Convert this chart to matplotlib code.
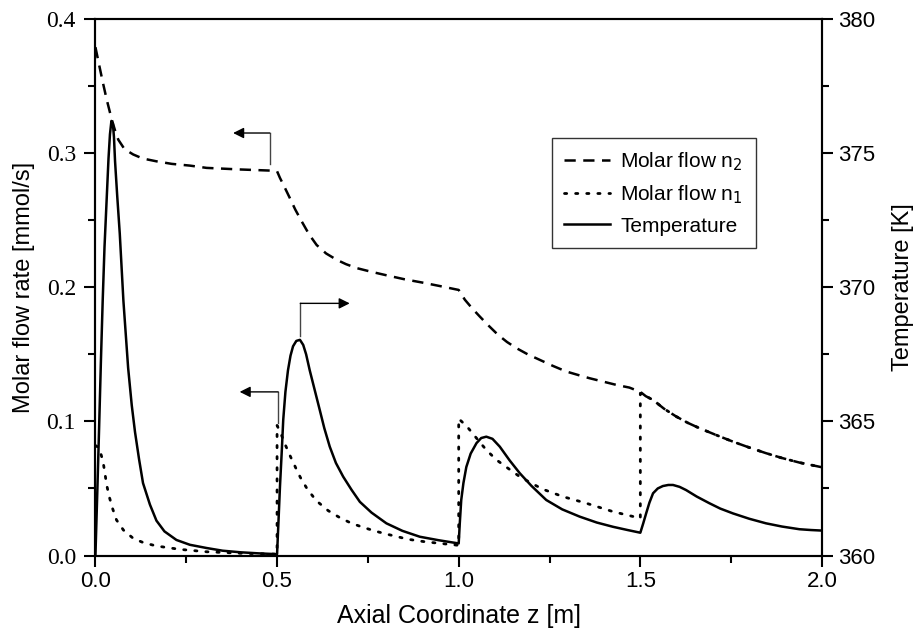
import numpy as np
import matplotlib
matplotlib.use("Agg")
import matplotlib.pyplot as plt
from matplotlib.ticker import MultipleLocator
from matplotlib.lines import Line2D

# molar flow n2 along the reactor (dashed)
z_n2 = [0.0, 0.01, 0.021, 0.031, 0.045, 0.055, 0.063, 0.08, 0.104, 0.13, 0.168, 0.21, 0.26,
        0.306, 0.4, 0.48, 0.5,
        0.508, 0.52, 0.535, 0.55, 0.567, 0.588, 0.609, 0.635, 0.664, 0.69, 0.719, 0.76, 0.8,
        0.85, 0.9, 0.95, 1.0,
        1.017, 1.037, 1.058, 1.083, 1.108, 1.133, 1.159, 1.19, 1.223, 1.26, 1.296, 1.33, 1.36,
        1.4, 1.434, 1.47, 1.5,
        1.515, 1.535, 1.565, 1.599, 1.63, 1.663, 1.71, 1.755, 1.8, 1.846, 1.89, 1.938, 1.97, 2.0]
n2 = [0.379, 0.366, 0.352, 0.340, 0.325, 0.316, 0.310, 0.303, 0.299, 0.296, 0.2939, 0.292, 0.2907,
      0.289, 0.2878, 0.287, 0.2865,
      0.2815, 0.275, 0.2666, 0.258, 0.2495, 0.2395, 0.2315, 0.2252, 0.2205, 0.2172, 0.2143, 0.2115, 0.209,
      0.206, 0.2035, 0.2008, 0.198,
      0.1907, 0.1843, 0.1782, 0.1712, 0.1646, 0.1592, 0.1546, 0.1500, 0.1459, 0.1413, 0.1372, 0.1345, 0.1322,
      0.1295, 0.1272, 0.1252, 0.122,
      0.1188, 0.116, 0.1095, 0.1036, 0.0990, 0.0949, 0.0897, 0.0849, 0.0805, 0.0763, 0.0727, 0.0693, 0.0675, 0.0658]

# molar flow n1 (dotted), jumps at each feed point
z_n1 = [0.0, 0.006, 0.012, 0.021, 0.026, 0.031, 0.038, 0.047, 0.058, 0.077, 0.104, 0.132, 0.168,
        0.232, 0.306, 0.4, 0.5,
        0.5, 0.512, 0.524, 0.537, 0.552, 0.564, 0.583, 0.608, 0.641, 0.673, 0.705, 0.737,
        0.769, 0.801, 0.861, 0.906, 0.971, 1.0,
        1.0, 1.023, 1.049, 1.076, 1.104, 1.136, 1.168, 1.2, 1.232, 1.287, 1.351, 1.425,
        1.489, 1.5,
        1.5, 1.515, 1.535, 1.565, 1.599, 1.63, 1.663, 1.71, 1.755, 1.8, 1.846, 1.89, 1.938, 1.97, 2.0]
n1 = [0.082, 0.081, 0.0787, 0.070, 0.0615, 0.0526, 0.0439, 0.0352, 0.0265, 0.019, 0.0128, 0.0096, 0.0071,
      0.0046, 0.0028, 0.0017, 0.0010,
      0.097, 0.0899, 0.0817, 0.0737, 0.065, 0.0583, 0.0496, 0.0409, 0.0334, 0.0282, 0.024, 0.021,
      0.0183, 0.016, 0.0121, 0.0103, 0.0084, 0.0076,
      0.102, 0.0961, 0.0875, 0.0787, 0.0713, 0.065, 0.0588, 0.0539, 0.0494, 0.0439, 0.039, 0.0327,
      0.0285, 0.0278,
      0.121, 0.1188, 0.116, 0.1095, 0.1036, 0.0990, 0.0949, 0.0897, 0.0849, 0.0805, 0.0763, 0.0727,
      0.0693, 0.0675, 0.0658]

# temperature profile (solid, right axis)
z_T = [0.0, 0.005, 0.01, 0.015, 0.02, 0.025, 0.031, 0.036, 0.04, 0.044, 0.048, 0.051, 0.054,
       0.06, 0.067, 0.077, 0.09, 0.1, 0.109, 0.12, 0.131, 0.15, 0.168, 0.19, 0.223, 0.26,
       0.306, 0.35, 0.4, 0.45, 0.5,
       0.504, 0.508, 0.513, 0.517, 0.523, 0.53, 0.537, 0.544, 0.553, 0.563, 0.572, 0.58, 0.59,
       0.604, 0.618, 0.63, 0.645, 0.662, 0.682, 0.705, 0.728, 0.76, 0.801, 0.845, 0.893, 0.945, 1.0,
       1.003, 1.007, 1.013, 1.021, 1.033, 1.049, 1.062, 1.076, 1.093, 1.113, 1.14, 1.168, 1.2,
       1.241, 1.285, 1.333, 1.38, 1.425, 1.465, 1.5,
       1.508, 1.516, 1.525, 1.535, 1.548, 1.562, 1.577, 1.59, 1.608, 1.626, 1.655, 1.69, 1.72,
       1.755, 1.8, 1.846, 1.89, 1.938, 1.97, 2.0]
T = [360.0, 362.3, 364.7, 367.2, 369.5, 371.5, 373.3, 374.8, 375.7, 376.2, 376.1, 375.6, 374.7,
     373.4, 372.0, 369.5, 367.0, 365.6, 364.6, 363.6, 362.7, 361.9, 361.3, 360.9, 360.58, 360.4,
     360.28, 360.18, 360.12, 360.08, 360.05,
     361.3, 362.57, 363.9, 365.06, 366.1, 366.9, 367.45, 367.8, 368.0, 368.04, 367.85, 367.5, 366.9,
     366.15, 365.4, 364.75, 364.06, 363.45, 362.94, 362.45, 362.0, 361.6, 361.2, 360.92, 360.7, 360.57, 360.45,
     361.2, 362.07, 362.7, 363.3, 363.8, 364.19, 364.38, 364.43, 364.35, 364.06, 363.55, 363.07, 362.6,
     362.07, 361.72, 361.45, 361.23, 361.07, 360.95, 360.85,
     361.2, 361.57, 361.97, 362.32, 362.5, 362.59, 362.63, 362.63, 362.56, 362.44, 362.2, 361.95, 361.75,
     361.57, 361.37, 361.2, 361.08, 360.98, 360.95, 360.93]

sans = ["Liberation Sans", "DejaVu Sans"]
serif = ["Liberation Serif", "DejaVu Serif"]

fig = plt.figure(figsize=(9.22, 6.42), dpi=100)
ax = fig.add_axes([0.1035, 0.1347, 0.788, 0.8357])
ax2 = ax.twinx()

dash = (0, (4.5, 3))
dots = (0, (0.8, 3.2))

ax.plot(z_n2, n2, color="black", lw=1.8, ls=dash)
ax.plot(z_n1, n1, color="black", lw=2.0, ls=dots, dash_capstyle="round")
ax2.plot(z_T, T, color="black", lw=1.8)

ax.set_xlim(0, 2.0)
ax.set_ylim(0, 0.4)
ax2.set_ylim(360, 380)

ax.xaxis.set_minor_locator(MultipleLocator(0.25))
ax.yaxis.set_minor_locator(MultipleLocator(0.05))
ax2.yaxis.set_minor_locator(MultipleLocator(2.5))

for a in (ax, ax2):
    for sp in a.spines.values():
        sp.set_linewidth(1.5)
    a.tick_params(which="major", direction="out", length=8, width=1.5)
    a.tick_params(which="minor", direction="out", length=5, width=1.5)
ax.tick_params(axis="y", which="major", pad=6)

ax.set_xticks([0, 0.5, 1.0, 1.5, 2.0])
ax.set_xticklabels(["0.0", "0.5", "1.0", "1.5", "2.0"], family=sans, fontsize=16)
ax.set_yticks([0, 0.1, 0.2, 0.3, 0.4])
ax.set_yticklabels(["0.0", "0.1", "0.2", "0.3", "0.4"], family=serif, fontsize=17)
ax2.set_yticks([360, 365, 370, 375, 380])
ax2.set_yticklabels(["360", "365", "370", "375", "380"], family=sans, fontsize=16)

ax.set_xlabel("Axial Coordinate z [m]", family=sans, fontsize=18, labelpad=8)
ax.set_ylabel("Molar flow rate [mmol/s]", family=sans, fontsize=17, labelpad=8)
ax2.set_ylabel("Temperature [K]", family=sans, fontsize=17, labelpad=12)

# bent arrows telling which axis each curve belongs to
arrow_kw = dict(arrowstyle="-|>", color="black", lw=1.0, mutation_scale=16, shrinkA=0, shrinkB=0)
line_kw = dict(color="#444444", lw=1.0)

ax.plot([0.48, 0.48], [0.292, 0.315], **line_kw)
ax.annotate("", xy=(0.379, 0.315), xytext=(0.48, 0.315), arrowprops=arrow_kw)
ax.plot([0.503, 0.503], [0.099, 0.122], **line_kw)
ax.annotate("", xy=(0.397, 0.122), xytext=(0.503, 0.122), arrowprops=arrow_kw)
ax2.plot([0.564, 0.564], [368.2, 369.4], **line_kw)
ax2.annotate("", xy=(0.70, 369.4), xytext=(0.564, 369.4), arrowprops=arrow_kw)

handles = [
    Line2D([], [], color="black", lw=1.8, ls=dash),
    Line2D([], [], color="black", lw=2.0, ls=dots, dash_capstyle="round"),
    Line2D([], [], color="black", lw=1.8),
]
labels = ["Molar flow n$_2$", "Molar flow n$_1$", "Temperature"]
leg = ax.legend(handles, labels, loc="upper left", bbox_to_anchor=(0.628, 0.778),
                prop={"family": sans, "size": 15}, fancybox=False, framealpha=1,
                edgecolor="#333333", handlelength=2.2, handletextpad=0.5,
                borderpad=0.6, labelspacing=0.5, borderaxespad=0)
leg.get_frame().set_linewidth(1.0)

fig.savefig("out.png", dpi=100)
